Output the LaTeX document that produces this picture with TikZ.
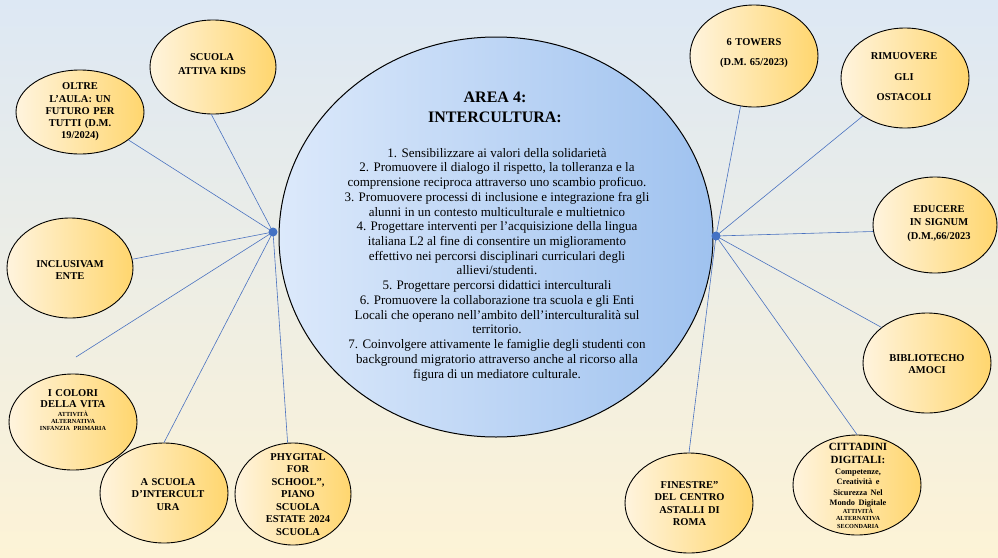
\documentclass[tikz,border=0pt]{standalone}
\usepackage{fontspec}
\setmainfont{Liberation Serif}
\usetikzlibrary{shapes.geometric,calc}
\definecolor{bgtop}{HTML}{DDE8F4}
\definecolor{bgbot}{HTML}{FDF3D6}
\definecolor{goldL}{HTML}{FFF4DE}
\definecolor{goldR}{HTML}{FFD66E}
\definecolor{blueL}{HTML}{DCE9FB}
\definecolor{blueR}{HTML}{9FC2EF}
\definecolor{linkblue}{HTML}{4A72C0}
\definecolor{hubc}{HTML}{4472C4}
\begin{document}
\begin{tikzpicture}[x=1pt,y=-1pt,
  bubble/.style={ellipse,draw=black,line width=0.9pt,left color=goldL,right color=goldR,inner sep=0pt},
  lbl/.style={font=\bfseries\fontsize{10.5}{12.5}\selectfont,align=center,text width=120pt,inner sep=0pt},
  linkline/.style={draw=linkblue,line width=0.6pt}]
\useasboundingbox (0,0) rectangle (998,557);
\fill[top color=bgtop,bottom color=bgbot] (0,0) rectangle (998,557);

% central ellipse
\node[ellipse,draw=black,line width=1pt,left color=blueL,right color=blueR,
      minimum width=434pt,minimum height=400pt,inner sep=0pt] (area) at (496,237) {};

% hubs
\coordinate (hubL) at (273,232);
\coordinate (hubR) at (716,236);

% bubbles
\node[bubble,minimum width=126pt,minimum height=94pt] (kids) at (213,67) {};
\node[bubble,minimum width=128pt,minimum height=84pt] (oltre) at (80,112) {};
\node[bubble,minimum width=126pt,minimum height=100pt] (inclus) at (70,268) {};
\node[bubble,minimum width=128pt,minimum height=96pt] (colori) at (73,422) {};
\node[bubble,minimum width=128pt,minimum height=100pt] (ascuola) at (164,493) {};
\node[bubble,minimum width=116pt,minimum height=102pt] (phyg) at (293,494) {};
\node[bubble,minimum width=128pt,minimum height=102pt] (towers) at (754,56) {};
\node[bubble,minimum width=128pt,minimum height=100pt] (rim) at (905,78) {};
\node[bubble,minimum width=124pt,minimum height=96pt] (edu) at (935,225) {};
\node[bubble,minimum width=128pt,minimum height=100pt] (bib) at (927,363) {};
\node[bubble,minimum width=128pt,minimum height=100pt] (citt) at (857,485) {};
\node[bubble,minimum width=128pt,minimum height=100pt] (fin) at (689,503) {};

\coordinate (coloriend) at (76,357);

% connectors
\draw[linkline] (hubL) -- (kids.268);
\draw[linkline] (hubL) -- (oltre.330);
\draw[linkline] (hubL) -- (inclus.8);
\draw[linkline] (hubL) -- (coloriend);
\draw[linkline] (hubL) -- (ascuola.north);
\draw[linkline] (hubL) -- (phyg.96);
\draw[linkline] (hubR) -- (towers.255);
\draw[linkline] (hubR) -- (rim.222);
\draw[linkline] (hubR) -- (edu.186);
\draw[linkline] (hubR) -- (bib.142);
\draw[linkline] (hubR) -- (citt.north);
\draw[linkline] (hubR) -- (fin.north);
\fill[hubc] (hubL) circle (4.5pt);
\fill[hubc] (hubR) circle (4.5pt);

% central text
\node[font=\bfseries\fontsize{16}{20}\selectfont,align=center] (title) at (495,107) {AREA 4:\\INTERCULTURA:};
\node[font=\fontsize{13}{14.73}\selectfont,align=center] (body) at (497,264.5) {%
1. Sensibilizzare ai valori della solidarietà\\
2. Promuovere il dialogo il rispetto, la tolleranza e la\\
comprensione reciproca attraverso uno scambio proficuo.\\
3. Promuovere processi di inclusione e integrazione fra gli\\
alunni in un contesto multiculturale e multietnico\\
4. Progettare interventi per l’acquisizione della lingua\\
italiana L2 al fine di consentire un miglioramento\\
effettivo nei percorsi disciplinari curriculari degli\\
allievi/studenti.\\
5. Progettare percorsi didattici interculturali\\
6. Promuovere la collaborazione tra scuola e gli Enti\\
Locali che operano nell’ambito dell’interculturalità sul\\
territorio.\\
7. Coinvolgere attivamente le famiglie degli studenti con\\
background migratorio attraverso anche al ricorso alla\\
figura di un mediatore culturale.};

% bubble texts
\node[lbl,font=\bfseries\fontsize{10.5}{13.5}\selectfont] (tkids) at (212,64) {SCUOLA\\ATTIVA KIDS};
\node[lbl,font=\bfseries\fontsize{10.5}{12.2}\selectfont] (toltre) at (80,112) {OLTRE\\L’AULA: UN\\FUTURO PER\\TUTTI (D.M.\\19/2024)};
\node[lbl] (tinclus) at (70,270) {INCLUSIVAM\\ENTE};
\node[lbl] (tcolori) at (73,410) {{\fontsize{10.5}{11.2}\selectfont I COLORI\\DELLA VITA\par}\vspace{1.5pt}{\fontsize{6.2}{7.2}\selectfont ATTIVITÀ\\ALTERNATIVA\\INFANZIA PRIMARIA\par}};
\node[lbl] (tascuola) at (168,494.5) {A SCUOLA\\D’INTERCULT\\URA};
\node[lbl] (tphyg) at (298,494.5) {PHYGITAL\\FOR\\SCHOOL”,\\PIANO\\SCUOLA\\ESTATE 2024\\SCUOLA};
\node[lbl,font=\bfseries\fontsize{10.5}{20}\selectfont] (ttowers) at (754,53) {6 TOWERS\\(D.M. 65/2023)};
\node[lbl,font=\bfseries\fontsize{10.5}{20.5}\selectfont] (trim) at (904,77) {RIMUOVERE\\GLI\\OSTACOLI};
\node[lbl,font=\bfseries\fontsize{10.5}{13.5}\selectfont] (tedu) at (939,223.5) {EDUCERE\\IN SIGNUM\\(D.M.,66/2023};
\node[lbl] (tbib) at (927,364) {BIBLIOTECHO\\AMOCI};
\node[lbl] (tcitt) at (858,486) {{\fontsize{11}{13}\selectfont CITTADINI\\DIGITALI:\par}\vspace{0.5pt}{\fontsize{8.3}{10.3}\selectfont Competenze,\\Creatività e\\Sicurezza Nel\\Mondo Digitale\par}\vspace{0.5pt}{\fontsize{6.2}{7.5}\selectfont ATTIVITÀ\\ALTERNATIVA\\SECONDARIA\par}};
\node[lbl] (tfin) at (689.5,503.5) {FINESTRE”\\DEL CENTRO\\ASTALLI DI\\ROMA};
\end{tikzpicture}
\end{document}
